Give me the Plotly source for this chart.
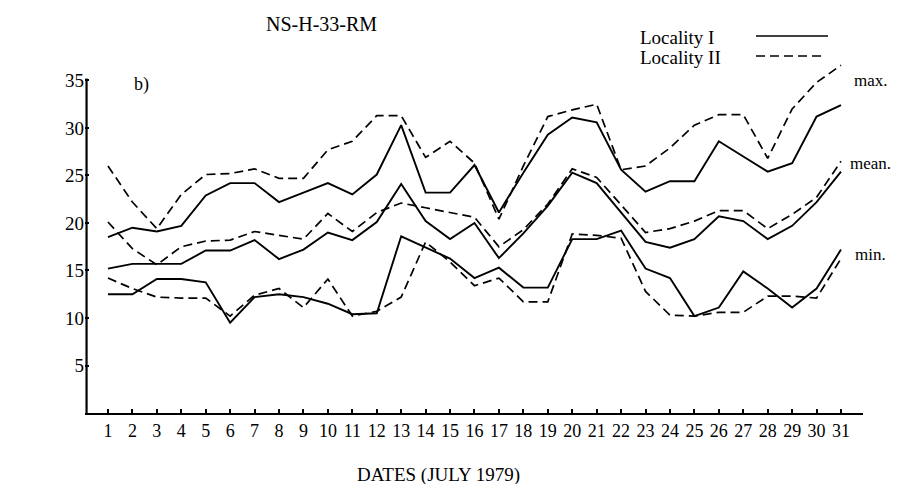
import plotly.graph_objects as go

days = list(range(1, 32))
tick_labels = [str(d) for d in days]
y_ticks = [5, 10, 15, 20, 25, 30, 35]

loc1_max = [18.5, 19.5, 19.1, 19.7, 22.9, 24.2, 24.2, 22.2, 23.2, 24.2, 23.0, 25.1, 30.3, 23.2, 23.2, 26.1,
            21.1, 25.3, 29.3, 31.1, 30.6, 25.6, 23.3, 24.4, 24.4, 28.6, 27.0, 25.4, 26.3, 31.2, 32.4]
loc2_max = [26.0, 22.2, 19.4, 23.0, 25.1, 25.2, 25.7, 24.7, 24.7, 27.7, 28.6, 31.3, 31.3, 26.9, 28.6, 26.3,
            20.4, 26.0, 31.2, 31.9, 32.5, 25.6, 26.0, 27.9, 30.3, 31.4, 31.4, 26.8, 32.0, 34.8, 36.6]
loc1_mean = [15.2, 15.7, 15.7, 15.7, 17.1, 17.1, 18.2, 16.2, 17.2, 19.0, 18.2, 20.1, 24.1, 20.2, 18.3, 20.0,
             16.3, 18.9, 21.8, 25.3, 24.2, 21.1, 18.0, 17.4, 18.3, 20.7, 20.2, 18.3, 19.7, 22.2, 25.4]
loc2_mean = [20.1, 17.3, 15.6, 17.5, 18.1, 18.2, 19.1, 18.7, 18.3, 21.0, 19.1, 21.1, 22.1, 21.6, 21.1, 20.6,
             17.5, 19.3, 22.0, 25.7, 24.8, 21.9, 19.0, 19.4, 20.2, 21.3, 21.3, 19.4, 20.9, 22.7, 26.5]
loc1_min = [12.5, 12.5, 14.1, 14.1, 13.75, 9.5, 12.2, 12.5, 12.2, 11.5, 10.4, 10.5, 18.6, 17.4, 16.25, 14.2,
            15.3, 13.2, 13.2, 18.3, 18.3, 19.2, 15.2, 14.2, 10.2, 11.1, 14.9, 13.1, 11.1, 13.1, 17.2]
loc2_min = [14.2, 13.1, 12.2, 12.1, 12.1, 10.2, 12.4, 13.1, 11.1, 14.1, 10.2, 10.7, 12.2, 18.0, 15.9, 13.4,
            14.2, 11.7, 11.7, 18.85, 18.7, 18.4, 12.8, 10.3, 10.2, 10.6, 10.6, 12.3, 12.3, 12.1, 16.25]

FONT = "Liberation Serif"
W, H = 902, 484
ML, MR, MT, MB = 77, 47, 49, 79
PW, PH = W - ML - MR, H - MT - MB


def px(xp):
    return (xp - ML) / PW


def py(yp):
    return (H - MB - yp) / PH


SOLID = dict(color="black", width=1.9)
DASHED = dict(color="black", width=1.7, dash="9px,5px")

fig = go.Figure()
for name, ys, ln in [
    ("Locality I max", loc1_max, SOLID),
    ("Locality II max", loc2_max, DASHED),
    ("Locality I mean", loc1_mean, SOLID),
    ("Locality II mean", loc2_mean, DASHED),
    ("Locality I min", loc1_min, SOLID),
    ("Locality II min", loc2_min, DASHED),
]:
    fig.add_trace(go.Scatter(x=days, y=ys, mode="lines", line=ln, name=name, showlegend=False))

annots = [
    dict(text="NS-H-33-RM", x=px(313), y=py(16), xanchor="center", size=20),
    dict(text="Locality I", x=px(630), y=py(29), xanchor="left", size=19),
    dict(text="Locality II", x=px(630), y=py(50), xanchor="left", size=19),
    dict(text="b)", x=px(124), y=py(76), xanchor="left", size=18),
    dict(text="max.", x=px(844), y=py(72), xanchor="left", size=17),
    dict(text="mean.", x=px(840), y=py(155), xanchor="left", size=17),
    dict(text="min.", x=px(845), y=py(246), xanchor="left", size=17),
    dict(text="DATES (JULY 1979)", x=px(347), y=py(467), xanchor="left", size=19),
]
for a in annots:
    fig.add_annotation(text=a["text"], x=a["x"], y=a["y"], xref="paper", yref="paper",
                       xanchor=a["xanchor"], yanchor="middle", showarrow=False,
                       font=dict(family=FONT, size=a["size"], color="black"))

# legend samples
fig.add_shape(type="line", xref="paper", yref="paper", x0=px(748), x1=px(820), y0=py(28), y1=py(28),
              line=dict(color="black", width=1.5))
fig.add_shape(type="line", xref="paper", yref="paper", x0=px(748), x1=px(818), y0=py(48), y1=py(48),
              line=dict(color="black", width=1.5, dash="9px,5px"))
# y-axis line (stops at the 35 tick)
fig.add_shape(type="line", xref="paper", yref="y", x0=0.002, x1=0.002, y0=0, y1=35.2,
              line=dict(color="black", width=2.2))

fig.update_layout(
    width=W, height=H,
    margin=dict(l=ML, r=MR, t=MT, b=MB),
    paper_bgcolor="white", plot_bgcolor="white",
    font=dict(family=FONT, color="black"),
    showlegend=False,
    xaxis=dict(range=[0.06, 31.9], tickmode="array", tickvals=days, ticktext=tick_labels,
               showgrid=False, zeroline=False, showline=True, linecolor="black", linewidth=2,
               ticks="inside", ticklen=4, tickwidth=1.5, tickcolor="black",
               tickfont=dict(family=FONT, size=18, color="black")),
    yaxis=dict(range=[0, 37.47], tickmode="array", tickvals=y_ticks,
               showgrid=False, zeroline=False, showline=False,
               ticks="inside", ticklen=4, tickwidth=1.5, tickcolor="black",
               tickfont=dict(family=FONT, size=19, color="black")),
)

fig.write_html("out.html")
